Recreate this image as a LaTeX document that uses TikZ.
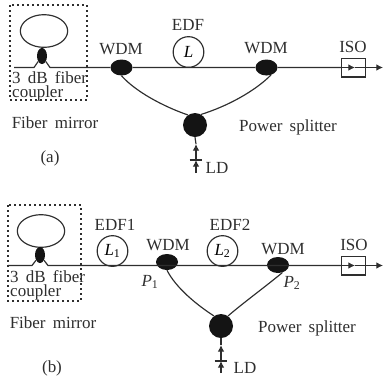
\documentclass[tikz,border=0pt]{standalone}
\usepackage{fontspec}
\setmainfont[WordSpace=1.7]{Liberation Serif}
\usetikzlibrary{arrows.meta,shapes.geometric}
\definecolor{ink}{gray}{0.18}
\tikzset{
  fiber/.style={draw=ink,line width=0.035cm},
  tipped/.style={fiber,-{Latex[length=0.2cm,width=0.2cm]}},
  wdm/.style={ellipse,fill=black!92,inner sep=0pt,minimum width=0.66cm,minimum height=0.48cm},
  coupler/.style={ellipse,fill=black!92,inner sep=0pt,minimum width=0.30cm,minimum height=0.48cm},
  splitter/.style={circle,fill=black!92,inner sep=0pt,minimum size=0.72cm},
  fiberloop/.style={ellipse,draw=ink,line width=0.035cm,inner sep=0pt,minimum width=1.42cm,minimum height=0.98cm},
  edf/.style={circle,draw=ink,line width=0.035cm,inner sep=0pt,minimum size=0.92cm},
  iso/.style={draw=ink,line width=0.04cm,inner sep=0pt,minimum width=0.72cm,minimum height=0.56cm},
  mirrorbox/.style={draw=ink,line width=0.045cm,dash pattern=on 0.05cm off 0.1cm},
  lbl/.style={text=ink,inner sep=0pt,font=\fontsize{14.5}{12.8}\selectfont}
}
\begin{document}
\begin{tikzpicture}[x=0.03cm,y=-0.03cm]
  \useasboundingbox (0,0) rectangle (384,379);

  % Panel a: fiber mirror
  \draw [mirrorbox] (10,5) rectangle (87,100);
  \node [fiberloop] (aloop) at (44,31) {};
  \node [coupler] (acoupler) at (42,56) {};
  \node [lbl,anchor=base west] (acouplertexta) at (12,83) {3 dB fiber};
  \node [lbl,anchor=base west] (acouplertextb) at (12,97) {coupler};
  \node [lbl] (amirror) at (55,123) {Fiber mirror};

  % Panel a: parts on the line
  \node [wdm] (awdma) at (121.5,67.5) {};
  \node [wdm] (awdmb) at (266.5,67.5) {};
  \node [iso] (aiso) at (353.5,67.5) {};
  \node [edf] (aedf) at (188.5,52) {\fontsize{14.5}{12}\selectfont\textit{L}};
  \node [splitter] (asplit) at (195,125) {};
  \coordinate (astart) at (14,67.5);
  \coordinate (alegl) at (34,67.5);
  \coordinate (alegr) at (50,67.5);
  \coordinate (aisotip) at (355,67.5);
  \coordinate (aend) at (383,67.5);
  \coordinate (ald) at (196,173);
  \coordinate (abar) at (196,160);
  \coordinate (apump) at (196,144);

  % Panel a: fiber
  \draw [fiber] (astart) -- (alegl) -- (acoupler) -- (alegr) -- (awdma) -- (awdmb) -- (aiso);
  \draw [tipped] (aiso.west) -- (aisotip);
  \draw [fiber] (aisotip) -- (aiso.east);
  \draw [tipped] (aiso.east) -- (aend);
  \draw [fiber] (awdma.south) .. controls (135,91) and (162,106) .. (asplit.125);
  \draw [fiber] (awdmb.300) .. controls (255,91) and (228,106) .. (asplit.60);

  % Panel a: pump
  \draw [tipped] (ald) -- (abar);
  \draw [tipped] (abar) -- (apump);
  \draw [fiber] (apump) -- (asplit.south);
  \draw [fiber] ([xshift=-0.19cm]abar) -- ([xshift=0.19cm]abar);

  % Panel a: labels
  \node [lbl] (aedflabel) at (188,25) {EDF};
  \node [lbl] (awdmalabel) at (121,49) {WDM};
  \node [lbl] (awdmblabel) at (266,48) {WDM};
  \node [lbl] (aisolabel) at (353,47) {ISO};
  \node [lbl] (asplitlabel) at (288,127) {Power splitter};
  \node [lbl] (aldlabel) at (217,168) {LD};
  \node [lbl] (acaption) at (50,158) {(a)};

  % Panel b: fiber mirror
  \draw [mirrorbox] (8,205) rectangle (81,301);
  \node [fiberloop] (bloop) at (41,231) {};
  \node [coupler] (bcoupler) at (40,255) {};
  \node [lbl,anchor=base west] (bcouplertexta) at (10,282) {3 dB fiber};
  \node [lbl,anchor=base west] (bcouplertextb) at (10,296) {coupler};
  \node [lbl] (bmirror) at (53,323) {Fiber mirror};

  % Panel b: parts on the line
  \node [wdm] (bwdma) at (167,262) {};
  \node [wdm] (bwdmb) at (278,265) {};
  \node [iso] (biso) at (353.5,265.5) {};
  \node [edf] (bedfa) at (112.5,251) {\fontsize{14.5}{12}\selectfont\textit{L}\textsubscript{1}};
  \node [edf] (bedfb) at (222.5,251) {\fontsize{14.5}{12}\selectfont\textit{L}\textsubscript{2}};
  \node [splitter] (bsplit) at (221,326) {};
  \coordinate (bstart) at (8,265.5);
  \coordinate (blegl) at (32,265.5);
  \coordinate (blegr) at (48,265.5);
  \coordinate (bisotip) at (355,265.5);
  \coordinate (bend) at (383,265.5);
  \coordinate (bld) at (221,373);
  \coordinate (bbar) at (221,361);
  \coordinate (bpump) at (221,345);

  % Panel b: fiber
  \draw [fiber] (bstart) -- (blegl) -- (bcoupler) -- (blegr) -- (biso);
  \draw [tipped] (biso.west) -- (bisotip);
  \draw [fiber] (bisotip) -- (biso.east);
  \draw [tipped] (biso.east) -- (bend);
  \draw [fiber] (bwdma.south) .. controls (176,288) and (197,305) .. (bsplit.125);
  \draw [fiber] (bwdmb.300) .. controls (265,287) and (243,303) .. (bsplit.55);

  % Panel b: pump
  \draw [tipped] (bld) -- (bbar);
  \draw [tipped] (bbar) -- (bpump);
  \draw [fiber] (bpump) -- (bsplit.south);
  \draw [fiber] ([xshift=-0.19cm]bbar) -- ([xshift=0.19cm]bbar);

  % Panel b: labels
  \node [lbl] (bedfalabel) at (115,225) {EDF1};
  \node [lbl] (bedfblabel) at (230,225) {EDF2};
  \node [lbl] (bwdmalabel) at (168,245) {WDM};
  \node [lbl] (bwdmblabel) at (283,249) {WDM};
  \node [lbl] (bisolabel) at (354,245) {ISO};
  \node [lbl] (bpa) at (150,282) {\textit{P}\textsubscript{1}};
  \node [lbl] (bpb) at (292,283) {\textit{P}\textsubscript{2}};
  \node [lbl] (bsplitlabel) at (307,328) {Power splitter};
  \node [lbl] (bldlabel) at (245,368) {LD};
  \node [lbl] (bcaption) at (52,368) {(b)};
\end{tikzpicture}
\end{document}
